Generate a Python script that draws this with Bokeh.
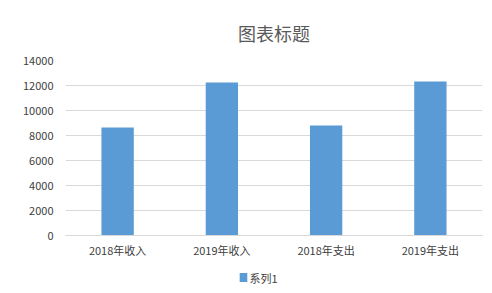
from bokeh.plotting import figure
from bokeh.layouts import column
from bokeh.models import ColumnDataSource, Title, FixedTicker, Range1d
from bokeh.core.properties import value
from bokeh.embed import file_html
from bokeh.resources import INLINE

categories = ["2018年收入", "2019年收入", "2018年支出", "2019年支出"]
values = [8650, 12250, 8800, 12320]
series_name = "系列1"
y_ticks = [0, 2000, 4000, 6000, 8000, 10000, 12000, 14000]

FONT = "Noto Sans CJK SC"
BAR_COLOR = "#5b9bd5"
src = ColumnDataSource(dict(cat=categories, val=values))

p = figure(width=492, height=268, x_range=categories, y_range=Range1d(0, 14000),
           output_backend="svg", toolbar_location=None,
           min_border_left=65, min_border_right=10, min_border_top=60, min_border_bottom=33)
p.outline_line_color = None
p.background_fill_color = "white"
p.border_fill_color = "white"

r = p.vbar(x="cat", top="val", width=0.31, source=src, color=BAR_COLOR, line_color=None)

p.title = Title(text="图表标题", align="center", text_font=FONT, text_font_size="18px",
                text_font_style="normal", text_color="#595959", offset=0)
p.title.standoff = 29

p.yaxis.ticker = FixedTicker(ticks=y_ticks)
p.yaxis.axis_line_color = None
p.yaxis.major_tick_line_color = None
p.yaxis.minor_tick_line_color = None
p.yaxis.major_label_text_font = FONT
p.yaxis.major_label_text_font_size = "11px"
p.yaxis.major_label_text_color = "#404040"
p.yaxis.major_label_standoff = 6

p.xaxis.axis_line_color = "#d9d9d9"
p.xaxis.major_tick_line_color = None
p.xaxis.minor_tick_line_color = None
p.xaxis.major_label_text_font = FONT
p.xaxis.major_label_text_font_size = "11px"
p.xaxis.major_label_text_color = "#404040"
p.xaxis.major_label_standoff = 0

p.xgrid.grid_line_color = None
p.ygrid.grid_line_color = "#d9d9d9"
p.ygrid.grid_line_width = 1
p.x_range.range_padding = 0

# legend strip (pixel-space figure below the chart)
p2 = figure(width=492, height=25, x_range=Range1d(0, 492), y_range=Range1d(0, 25),
            output_backend="svg", toolbar_location=None, x_axis_type=None, y_axis_type=None,
            min_border=0)
p2.outline_line_color = None
p2.xgrid.grid_line_color = None
p2.ygrid.grid_line_color = None
p2.rect(x=[210], y=[16], width=9, height=9, fill_color=BAR_COLOR, line_color=None)
p2.text(x=[217], y=[16], text=[series_name], text_baseline="middle", text_align="left",
        text_font=value(FONT), text_font_size="11px", text_color="#404040")

layout = column(p, p2, spacing=0)
open("out.html", "w").write(file_html(layout, INLINE))
